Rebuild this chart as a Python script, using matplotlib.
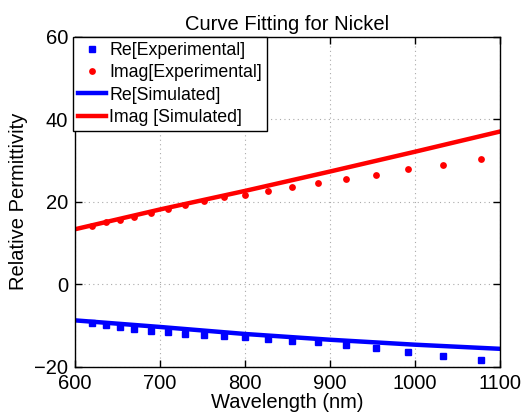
import matplotlib
matplotlib.use('Agg')
import matplotlib.pyplot as plt

# --- data ---
wl_exp = [620, 636, 653, 670, 689, 709, 729, 752, 775, 800, 827, 855,
          886, 919, 954, 992, 1033, 1078]
re_exp = [-9.4, -9.9, -10.5, -10.8, -11.3, -11.6, -12.0, -12.4, -12.6, -12.9,
          -13.4, -13.8, -14.1, -14.8, -15.6, -16.4, -17.4, -18.5]
im_exp = [14.1, 15.0, 15.5, 16.3, 17.3, 18.1, 19.2, 20.2, 21.0, 21.7,
          22.6, 23.6, 24.6, 25.4, 26.5, 27.8, 29.0, 30.4]

wl_sim = [600, 700, 800, 900, 1000, 1100]
re_sim = [-8.8, -10.4, -12.1, -13.5, -14.7, -15.7]
im_sim = [13.3, 18.1, 22.6, 27.3, 32.1, 37.0]

xticks = [600, 700, 800, 900, 1000, 1100]
yticks = [-20, 0, 20, 40, 60]

plt.rcParams['font.family'] = ['Liberation Sans', 'DejaVu Sans']

fig = plt.figure(figsize=(5.23, 4.17), dpi=100)
ax = fig.add_axes([0.1434, 0.121, 0.8126, 0.791])

ax.plot(wl_exp, re_exp, 's', color='#0000ff', markersize=3.7, label='Re[Experimental]')
ax.plot(wl_exp, im_exp, 'o', color='#ff0000', markersize=4.9, markeredgewidth=0,
        label='Imag[Experimental]')
ax.plot(wl_sim, re_sim, '-', color='#0000ff', linewidth=3.2, label='Re[Simulated]')
ax.plot(wl_sim, im_sim, '-', color='#ff0000', linewidth=3.2, label='Imag [Simulated]')

ax.set_xlim(600, 1100)
ax.set_ylim(-20, 60)
ax.set_xticks(xticks)
ax.set_yticks(yticks)
ax.tick_params(direction='in', top=True, right=True, labelsize=14.5, length=5,
               width=1)
ax.tick_params(axis='x', pad=5.5)
ax.tick_params(axis='y', pad=5)
ax.grid(True, linestyle=(0, (1, 3)), color='#aaaaaa', linewidth=0.8)
for s in ax.spines.values():
    s.set_linewidth(1)
    s.set_color('black')

ax.set_title('Curve Fitting for Nickel', fontsize=14.5, pad=5)
ax.set_xlabel('Wavelength (nm)', fontsize=14.5, labelpad=0)
ax.set_ylabel('Relative Permittivity', fontsize=14.5, labelpad=4)

leg = ax.legend(loc='upper left', bbox_to_anchor=(-0.005, 1.0), borderaxespad=0,
                fontsize=12.8, handlelength=1.55, handletextpad=0.2,
                labelspacing=0.3, borderpad=0.3, fancybox=False,
                edgecolor='black', framealpha=1, numpoints=1)
leg.get_frame().set_linewidth(1)

fig.savefig('out.png', dpi=100)
